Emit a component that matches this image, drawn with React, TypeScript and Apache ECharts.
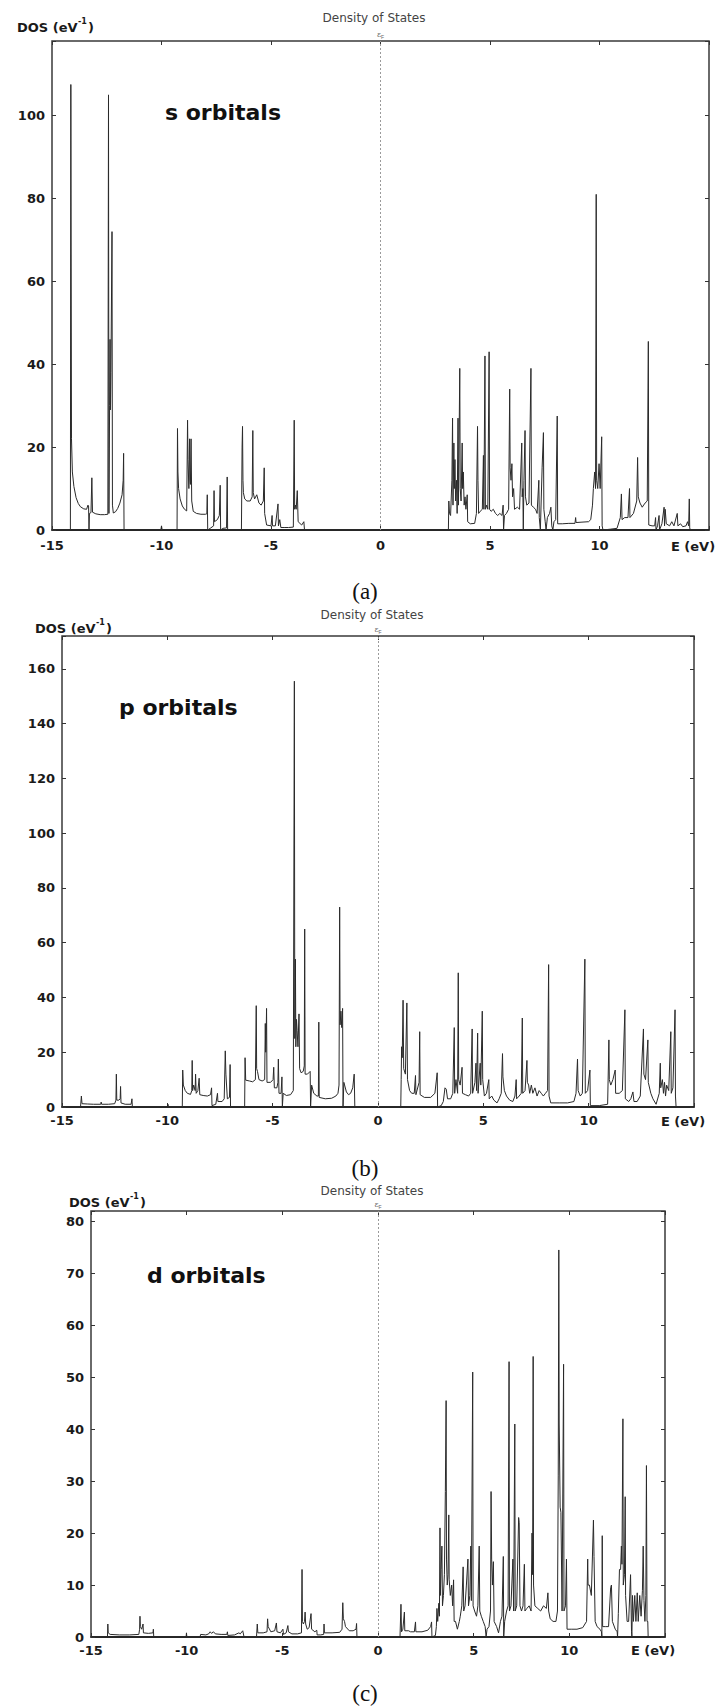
import React, { useEffect, useRef } from "react";
import * as echarts from "echarts";

// ---- data (energy in eV, DOS in 1/eV) ----
const energyMin = -15;
const energyMax = 15;
const energyStep = 5;
const panelNames = ["s orbitals", "p orbitals", "d orbitals"];
const captions = ["(a)", "(b)", "(c)"];
const dosMax = [118, 172, 82];
const dosStep = [20, 20, 10];

const sValence: number[][] = [
  [-15, 0], [-14.16, 0], [-14.14, 107.5], [-14.11, 22], [-14.07, 14], [-14.0, 10.5], [-13.9, 7.8], [-13.8, 6.4],
  [-13.7, 5.6], [-13.55, 5.1], [-13.42, 5.0], [-13.36, 6], [-13.33, 5.8], [-13.31, 0], [-13.29, 4], [-13.22, 4.2],
  [-13.18, 12.6], [-13.15, 4.3], [-13.0, 3.9], [-12.8, 3.7], [-12.6, 3.7], [-12.45, 3.8], [-12.42, 105], [-12.4, 4],
  [-12.37, 30], [-12.35, 46], [-12.33, 29], [-12.31, 38], [-12.26, 72], [-12.24, 6], [-12.2, 4.1], [-12.1, 4.4],
  [-12.0, 5.2], [-11.9, 6.5], [-11.8, 8.5], [-11.75, 12], [-11.73, 18.5], [-11.71, 0], [-10.03, 0], [-10.0, 1], [-9.97, 0],
  [-9.29, 0], [-9.27, 24.5], [-9.25, 14], [-9.22, 10], [-9.15, 7.5], [-9.05, 5.8], [-8.95, 5], [-8.85, 4.6],
  [-8.81, 26.5], [-8.79, 17], [-8.75, 10], [-8.72, 22], [-8.7, 12], [-8.68, 11], [-8.65, 22], [-8.62, 7], [-8.55, 4.5],
  [-8.4, 4], [-8.2, 3.8], [-8.0, 3.8], [-7.93, 3.9], [-7.91, 8.5], [-7.89, 0], [-7.75, 0.5], [-7.62, 1], [-7.6, 9.5],
  [-7.58, 2], [-7.45, 2.5], [-7.36, 3.5], [-7.32, 10.8], [-7.3, 0], [-7.2, 0.4], [-7.03, 0.5], [-7.0, 12.8], [-6.98, 0],
  [-6.35, 0], [-6.32, 20], [-6.3, 25], [-6.28, 12], [-6.26, 9], [-6.2, 7.5], [-6.1, 7], [-5.95, 7], [-5.86, 8],
  [-5.83, 24], [-5.81, 9], [-5.75, 7.5], [-5.65, 8.5], [-5.55, 6.5], [-5.45, 6], [-5.35, 7], [-5.31, 15], [-5.29, 4],
  [-5.2, 1.2], [-5.0, 1], [-4.95, 3.5], [-4.93, 1], [-4.8, 1], [-4.68, 6.3], [-4.66, 1], [-4.6, 2.5], [-4.55, 0.6],
  [-4.4, 0.6], [-4.2, 0.6], [-3.98, 0.7], [-3.94, 26.5], [-3.92, 5], [-3.88, 6], [-3.85, 5], [-3.8, 9.5], [-3.76, 2],
  [-3.6, 1.2], [-3.5, 2], [-3.47, 0],
];

const sConduction: number[][] = [
  [3.1, 0], [3.12, 7], [3.15, 4], [3.2, 3.5], [3.26, 12], [3.29, 27], [3.31, 6], [3.35, 21], [3.37, 10], [3.4, 17],
  [3.43, 7], [3.47, 12], [3.5, 4], [3.54, 27], [3.56, 6], [3.62, 39], [3.64, 10], [3.68, 7], [3.73, 21], [3.75, 10],
  [3.78, 14], [3.82, 6], [3.86, 8], [3.9, 5], [3.96, 8.5], [3.98, 2], [4.1, 1.5], [4.3, 1.6], [4.38, 4], [4.43, 25],
  [4.45, 12], [4.48, 4], [4.55, 4.5], [4.65, 5], [4.7, 18], [4.72, 5], [4.77, 42], [4.79, 5], [4.85, 6], [4.9, 5],
  [4.96, 43], [4.98, 5], [5.05, 4.5], [5.15, 5], [5.25, 4], [5.35, 3.5], [5.45, 4], [5.55, 3.5], [5.6, 6], [5.62, 0],
  [5.66, 3.5], [5.75, 4], [5.85, 5], [5.9, 34], [5.92, 15], [5.96, 12], [6.0, 16], [6.03, 8], [6.08, 10], [6.12, 5],
  [6.25, 5.5], [6.35, 5], [6.45, 21], [6.47, 8], [6.5, 10], [6.52, 0], [6.55, 12], [6.6, 24], [6.62, 8], [6.68, 6],
  [6.78, 6.5], [6.87, 39], [6.89, 6], [6.98, 5.5], [7.08, 5], [7.15, 4], [7.23, 12], [7.25, 3], [7.3, 0], [7.38, 15],
  [7.44, 23.5], [7.46, 5], [7.52, 2], [7.56, 0], [7.62, 3], [7.72, 4], [7.78, 5.5], [7.82, 1], [7.87, 0], [7.92, 2],
  [8.0, 2.5], [8.07, 27.5], [8.09, 1.5], [8.3, 1.5], [8.6, 1.6], [8.88, 1.6], [8.91, 3], [8.93, 1.8], [9.2, 1.9],
  [9.5, 2], [9.6, 2.5], [9.68, 6], [9.72, 10], [9.78, 14], [9.82, 10], [9.85, 81], [9.87, 12], [9.92, 10], [9.98, 16],
  [10.03, 10], [10.1, 22.5], [10.12, 1], [10.16, 0], [10.5, 0.2], [10.8, 0.4], [10.95, 3], [11.0, 8.7], [11.03, 2.5],
  [11.15, 3], [11.3, 3], [11.37, 10], [11.39, 3], [11.55, 4], [11.7, 7], [11.74, 17.5], [11.77, 8], [11.85, 6.5],
  [11.95, 5.5], [12.08, 6.5], [12.18, 7], [12.23, 45.5], [12.25, 1.2], [12.4, 1], [12.52, 1], [12.56, 3], [12.58, 0],
  [12.65, 1], [12.72, 3.5], [12.74, 0], [12.85, 1.5], [12.95, 5.5], [12.97, 1], [13.0, 5], [13.05, 1.5], [13.2, 1],
  [13.3, 2], [13.4, 1], [13.55, 4], [13.58, 1], [13.7, 1.5], [13.8, 0.8], [13.95, 1], [14.02, 2], [14.07, 1],
  [14.1, 7.5], [14.12, 0.5], [14.15, 0], [15, 0],
];

const pValence: number[][] = [
  [-15, 0], [-14.12, 0], [-14.08, 4], [-14.05, 1.2], [-13.8, 1.1], [-13.5, 1], [-13.16, 1], [-13.14, 1.8], [-13.12, 1],
  [-12.8, 1], [-12.5, 1.2], [-12.44, 2.5], [-12.42, 12], [-12.4, 2.5], [-12.3, 2.5], [-12.24, 3], [-12.22, 7.5],
  [-12.2, 1.5], [-12.0, 1], [-11.72, 1], [-11.68, 3], [-11.66, 0], [-10.0, 0], [-9.97, 1], [-9.94, 0],
  [-9.29, 0], [-9.27, 13.5], [-9.24, 8], [-9.15, 6], [-9.05, 5], [-8.9, 4.6], [-8.84, 6], [-8.82, 17], [-8.8, 6],
  [-8.75, 8], [-8.68, 6], [-8.66, 12], [-8.63, 5], [-8.55, 6], [-8.49, 10.5], [-8.46, 4.5], [-8.3, 4.2], [-8.1, 4],
  [-7.95, 4.5], [-7.9, 7], [-7.88, 0.5], [-7.7, 1], [-7.62, 5], [-7.6, 2], [-7.4, 2], [-7.3, 3], [-7.25, 20.5],
  [-7.22, 12], [-7.15, 3], [-7.05, 3.5], [-7.02, 15.5], [-7.0, 0],
  [-6.33, 0], [-6.31, 18], [-6.28, 9.8], [-6.1, 9.5], [-5.95, 9.2], [-5.82, 10], [-5.78, 37], [-5.76, 14], [-5.72, 13],
  [-5.65, 10], [-5.5, 9.5], [-5.38, 10], [-5.35, 30.5], [-5.33, 20], [-5.31, 26], [-5.29, 36], [-5.27, 9], [-5.1, 9],
  [-4.98, 10], [-4.95, 14.5], [-4.92, 7], [-4.8, 7], [-4.75, 9], [-4.73, 17.5], [-4.7, 5], [-4.6, 5], [-4.56, 11],
  [-4.54, 0], [-4.5, 5], [-4.35, 4.2], [-4.15, 4.5], [-4.02, 6], [-3.97, 155.5], [-3.95, 25], [-3.92, 54], [-3.9, 22],
  [-3.87, 32], [-3.84, 28], [-3.8, 22], [-3.75, 34], [-3.72, 14], [-3.65, 12.5], [-3.55, 13], [-3.5, 15], [-3.48, 65],
  [-3.46, 12], [-3.35, 12], [-3.22, 13], [-3.2, 0], [-3.15, 8], [-3.05, 5], [-2.9, 4], [-2.83, 4], [-2.81, 31],
  [-2.79, 3.5], [-2.5, 3], [-2.2, 3.2], [-2.0, 4], [-1.9, 5], [-1.85, 8], [-1.82, 73], [-1.8, 30], [-1.76, 35],
  [-1.72, 29], [-1.68, 36], [-1.66, 0], [-1.62, 9], [-1.5, 5.5], [-1.4, 4.5], [-1.3, 5], [-1.2, 7], [-1.13, 12], [-1.1, 0],
];

const pConduction: number[][] = [
  [1.08, 0], [1.1, 10], [1.12, 22], [1.15, 18], [1.19, 39], [1.22, 14], [1.3, 12], [1.37, 38], [1.4, 10], [1.5, 6],
  [1.6, 5], [1.72, 5], [1.78, 11.5], [1.8, 4.5], [1.95, 9], [1.98, 27.5], [2.0, 4.5], [2.2, 3.5], [2.5, 3.5], [2.7, 5],
  [2.81, 12.5], [2.83, 0], [3.0, 0.5], [3.1, 2], [3.18, 7], [3.24, 6.5], [3.3, 3], [3.45, 3], [3.55, 5], [3.62, 29],
  [3.64, 5], [3.7, 10], [3.78, 5], [3.81, 49], [3.83, 10], [3.9, 8], [3.99, 14.5], [4.01, 5], [4.15, 4.5], [4.3, 4],
  [4.4, 5], [4.47, 28.5], [4.49, 5], [4.6, 9], [4.65, 16], [4.68, 6], [4.73, 27], [4.75, 5], [4.85, 16], [4.88, 8],
  [4.95, 35], [4.97, 10], [5.05, 4], [5.15, 5], [5.26, 10], [5.28, 3], [5.4, 4], [5.5, 2.5], [5.65, 1.5], [5.75, 3],
  [5.85, 5], [5.91, 19.5], [5.93, 11], [6.0, 6], [6.1, 4], [6.25, 2.5], [6.4, 2], [6.5, 4], [6.56, 10], [6.58, 3],
  [6.7, 4], [6.8, 5], [6.85, 32.5], [6.87, 5], [6.98, 6], [7.07, 17], [7.09, 9], [7.15, 8], [7.2, 5], [7.28, 8],
  [7.35, 5], [7.45, 7], [7.55, 4], [7.65, 6], [7.75, 5], [7.85, 4], [7.95, 5], [8.05, 6], [8.1, 52], [8.12, 4],
  [8.2, 1.5], [8.6, 1.5], [9.0, 1.5], [9.3, 2], [9.4, 5], [9.47, 17.5], [9.5, 6], [9.6, 4], [9.7, 5], [9.82, 54],
  [9.84, 5], [9.95, 6], [10.06, 13.5], [10.08, 0.5], [10.5, 0.5], [10.9, 1], [10.96, 24.5], [10.98, 10], [11.05, 8],
  [11.15, 10], [11.26, 13.5], [11.28, 5], [11.45, 5], [11.6, 6], [11.72, 35.5], [11.74, 3], [11.9, 2], [12.0, 3],
  [12.1, 5.5], [12.15, 2], [12.3, 2], [12.45, 4], [12.6, 28.5], [12.62, 12], [12.7, 10], [12.81, 24.5], [12.83, 9],
  [12.95, 5], [13.05, 3], [13.2, 1], [13.35, 5], [13.4, 16], [13.42, 7], [13.5, 10], [13.55, 5], [13.6, 9], [13.65, 4],
  [13.7, 8], [13.8, 6], [13.9, 27.5], [13.92, 5], [14.0, 7], [14.1, 35.5], [14.12, 4], [14.15, 0], [15, 0],
];

const dValence: number[][] = [
  [-15, 0], [-14.14, 0], [-14.12, 2.5], [-14.1, 0.8], [-14.0, 0.5], [-13.5, 0.4], [-13.0, 0.4], [-12.5, 0.5],
  [-12.46, 1.5], [-12.44, 4], [-12.42, 2], [-12.35, 1.5], [-12.28, 2.5], [-12.26, 0.8], [-12.0, 0.7], [-11.76, 0.8],
  [-11.74, 1.5], [-11.72, 0], [-10.03, 0], [-10.01, 0.8], [-9.99, 0], [-9.3, 0], [-9.27, 0.5], [-9.0, 0.4],
  [-8.85, 0.6], [-8.77, 1], [-8.7, 0.7], [-8.6, 1], [-8.5, 0.6], [-8.2, 0.5], [-7.9, 0.5], [-7.87, 1], [-7.85, 0.3],
  [-7.5, 0.4], [-7.27, 0.8], [-7.2, 0.6], [-7.07, 1.2], [-7.0, 0], [-6.35, 0], [-6.31, 2.5], [-6.28, 0.8], [-6.0, 0.8],
  [-5.8, 1], [-5.77, 3.5], [-5.74, 2], [-5.6, 1], [-5.4, 1.2], [-5.31, 2.7], [-5.28, 1], [-5.1, 0.8], [-4.97, 1.5],
  [-4.94, 0.5], [-4.8, 0.8], [-4.71, 2.2], [-4.68, 1], [-4.5, 0.6], [-4.2, 0.6], [-4.0, 0.8], [-3.97, 13], [-3.95, 3],
  [-3.9, 2.5], [-3.84, 3], [-3.81, 4.8], [-3.78, 2.5], [-3.7, 1.5], [-3.6, 1.8], [-3.5, 4.5], [-3.47, 1.5], [-3.3, 1],
  [-3.2, 1.3], [-3.18, 0.4], [-3.0, 0.4], [-2.84, 0.5], [-2.82, 2.5], [-2.8, 0.8], [-2.4, 0.8], [-2.0, 0.9],
  [-1.88, 1.5], [-1.84, 6.6], [-1.81, 3.5], [-1.75, 3], [-1.7, 2], [-1.5, 1.2], [-1.3, 1.2], [-1.15, 1.5],
  [-1.12, 2.6], [-1.1, 0],
];

const dConduction: number[][] = [
  [1.15, 0], [1.2, 6.3], [1.23, 1], [1.3, 1.5], [1.38, 4.8], [1.4, 1.2], [1.6, 1.2], [1.7, 1], [1.9, 1], [1.96, 2.9],
  [1.98, 1], [2.3, 1], [2.6, 1.3], [2.75, 2], [2.8, 2.9], [2.82, 0], [3.0, 0.3], [3.05, 2], [3.08, 5.5], [3.12, 3],
  [3.18, 6.5], [3.21, 4], [3.24, 21], [3.26, 8], [3.3, 13], [3.34, 17.5], [3.37, 6], [3.42, 8], [3.47, 12], [3.52, 28],
  [3.56, 45.5], [3.58, 15], [3.62, 10], [3.66, 12], [3.7, 23.5], [3.72, 11], [3.78, 8], [3.85, 10], [3.9, 6],
  [3.95, 11], [3.98, 3], [4.05, 3], [4.15, 1.5], [4.25, 3], [4.3, 4], [4.38, 6], [4.45, 13.5], [4.48, 5], [4.55, 6],
  [4.62, 10], [4.7, 15], [4.73, 6], [4.8, 8], [4.85, 17.5], [4.88, 7], [4.95, 51], [4.97, 6], [5.05, 5], [5.15, 4],
  [5.22, 6], [5.29, 17.5], [5.32, 5], [5.4, 4], [5.5, 3], [5.6, 2], [5.65, 0], [5.7, 1.5], [5.8, 2], [5.88, 5],
  [5.91, 28], [5.94, 15], [5.98, 10], [6.03, 14.5], [6.07, 3], [6.2, 2], [6.3, 0.8], [6.4, 3], [6.48, 4], [6.55, 15.5],
  [6.57, 0], [6.62, 3], [6.72, 5], [6.8, 6], [6.85, 53], [6.87, 5], [6.95, 6], [7.05, 15], [7.09, 5], [7.15, 41],
  [7.17, 5], [7.25, 6], [7.35, 23], [7.38, 22], [7.42, 6], [7.5, 5], [7.58, 6], [7.65, 14], [7.68, 5], [7.78, 5.5],
  [7.9, 6], [8.0, 5], [8.05, 20], [8.08, 12], [8.11, 54], [8.13, 10], [8.2, 6], [8.35, 5.5], [8.5, 5], [8.65, 6],
  [8.8, 5.5], [8.88, 8.5], [8.92, 5], [9.0, 3.5], [9.15, 3], [9.3, 3], [9.38, 5], [9.42, 31], [9.45, 74.5], [9.47, 41],
  [9.52, 25], [9.56, 24], [9.62, 5], [9.7, 52.5], [9.72, 5], [9.8, 6], [9.85, 15], [9.88, 1.5], [10.1, 1.5],
  [10.4, 1.5], [10.7, 1.8], [10.9, 3], [10.96, 15], [10.98, 10], [11.05, 10], [11.15, 8], [11.26, 22.5], [11.29, 15.5],
  [11.35, 3], [11.45, 2], [11.6, 1.5], [11.68, 1], [11.7, 0], [11.72, 19.5], [11.74, 2], [11.9, 2], [12.05, 2],
  [12.16, 9.5], [12.2, 10], [12.25, 3], [12.4, 1.5], [12.5, 1], [12.52, 0], [12.56, 4.5], [12.62, 13], [12.68, 13],
  [12.72, 17.5], [12.75, 14], [12.8, 42], [12.82, 10], [12.88, 12], [12.92, 27], [12.94, 8], [13.02, 3], [13.1, 3],
  [13.2, 12], [13.25, 1], [13.27, 0], [13.3, 8], [13.35, 3], [13.42, 8], [13.48, 3], [13.55, 8.5], [13.6, 3],
  [13.68, 8], [13.75, 4], [13.82, 9], [13.86, 17.5], [13.9, 7], [13.95, 3], [14.0, 8], [14.03, 33], [14.06, 3],
  [14.1, 3], [14.12, 0], [15, 0],
];

const panelData = [
  [...sValence, ...sConduction],
  [...pValence, ...pConduction],
  [...dValence, ...dConduction],
];

// ---- layout (pixels) ----
const grids = [
  { left: 52, top: 41, width: 657, height: 489 },
  { left: 62, top: 636, width: 632, height: 471 },
  { left: 91, top: 1211, width: 574, height: 426 },
];
const xLabelMargin = [9, 7, 7];
const titleY = [18, 615, 1191];
const titleX = [374, 372, 372];
const dosLabelX = [17, 35, 69];
const dosLabelY = [27, 628, 1202];
const nameX = [165, 119, 147];
const nameY = [112, 707, 1275];
const eLabelX = [693, 683, 653];
const eLabelY = [546, 1121, 1650];
const captionY = [591, 1168, 1693];

const BOLD = "DejaVu Sans";

function buildOption() {
  const xAxis: any[] = [];
  const yAxis: any[] = [];
  const series: any[] = [];
  const graphic: any[] = [];

  grids.forEach((g, i) => {
    const tick = { show: true, inside: true, length: 4, lineStyle: { color: "#333", width: 1 } };
    xAxis.push({
      type: "value", gridIndex: i, position: "bottom", min: energyMin, max: energyMax, interval: energyStep,
      axisLine: { show: true, onZero: false, lineStyle: { color: "#111", width: 1.6 } },
      axisTick: tick,
      splitLine: { show: false },
      axisLabel: {
        margin: xLabelMargin[i], fontFamily: BOLD, fontWeight: "bold", fontSize: 13, lineHeight: 13, color: "#1a1a1a",
        formatter: (v: number) => (v === energyMax ? "" : String(v)),
      },
    });
    xAxis.push({
      type: "value", gridIndex: i, position: "top", min: energyMin, max: energyMax, interval: energyStep,
      axisLine: { show: false, onZero: false }, axisTick: tick, axisLabel: { show: false }, splitLine: { show: false },
    });
    yAxis.push({
      type: "value", gridIndex: i, position: "left", min: 0, max: dosMax[i], interval: dosStep[i],
      axisLine: { show: false, onZero: false }, axisTick: tick, splitLine: { show: false },
      axisLabel: {
        margin: 7, fontFamily: BOLD, fontWeight: "bold", fontSize: 13, lineHeight: 13, color: "#1a1a1a",
        padding: [0, 0, 4, 0],
        formatter: (v: number) => (v % dosStep[i] === 0 ? String(v) : ""),
      },
    });
    yAxis.push({
      type: "value", gridIndex: i, position: "right", min: 0, max: dosMax[i], interval: dosStep[i],
      axisLine: { show: false, onZero: false }, axisTick: tick, axisLabel: { show: false }, splitLine: { show: false },
    });
    series.push({
      type: "line", xAxisIndex: 2 * i, yAxisIndex: 2 * i, data: panelData[i],
      symbol: "none", showSymbol: false, clip: true,
      lineStyle: { color: "#2a2a2a", width: 1 },
      markLine: {
        silent: true, symbol: "none",
        lineStyle: { color: "#9a9a9a", width: 1, type: [2, 2] },
        label: {
          show: true, position: "end", distance: 2,
          formatter: "{a|ε}{b|F}",
          rich: {
            a: { fontSize: 8, color: "#666", fontFamily: "DejaVu Serif" },
            b: { fontSize: 5, color: "#666", padding: [4, 0, 0, 0] },
          },
        },
        data: [{ xAxis: 0 }],
      },
    });

    graphic.push({
      type: "text", x: titleX[i], y: titleY[i], silent: true,
      style: { text: "Density of States", fontFamily: "DejaVu Sans", fontSize: 12, fill: "#444", align: "center", verticalAlign: "middle" },
    });
    graphic.push({
      type: "text", x: dosLabelX[i], y: dosLabelY[i], silent: true,
      style: { text: "DOS (eV", fontFamily: BOLD, fontWeight: "bold", fontSize: 13, fill: "#1a1a1a", align: "left", verticalAlign: "middle" },
    });
    graphic.push({
      type: "text", x: dosLabelX[i] + 61, y: dosLabelY[i] - 6, silent: true,
      style: { text: "-1", fontFamily: BOLD, fontWeight: "bold", fontSize: 8, fill: "#1a1a1a", align: "left", verticalAlign: "middle" },
    });
    graphic.push({
      type: "text", x: dosLabelX[i] + 71, y: dosLabelY[i], silent: true,
      style: { text: ")", fontFamily: BOLD, fontWeight: "bold", fontSize: 13, fill: "#1a1a1a", align: "left", verticalAlign: "middle" },
    });
    graphic.push({
      type: "text", x: nameX[i], y: nameY[i], silent: true,
      style: { text: panelNames[i], fontFamily: BOLD, fontWeight: "bold", fontSize: 22, fill: "#111", align: "left", verticalAlign: "middle" },
    });
    graphic.push({
      type: "text", x: eLabelX[i], y: eLabelY[i], silent: true,
      style: { text: "E (eV)", fontFamily: BOLD, fontWeight: "bold", fontSize: 13, fill: "#1a1a1a", align: "center", verticalAlign: "middle" },
    });
    graphic.push({
      type: "text", x: 365, y: captionY[i], silent: true,
      style: { text: captions[i], fontFamily: "Liberation Serif", fontSize: 23, fill: "#111", align: "center", verticalAlign: "middle" },
    });
  });

  return {
    animation: false,
    backgroundColor: "#ffffff",
    grid: grids.map((g) => ({ ...g, show: true, borderColor: "#3a3a3a", borderWidth: 1.5, backgroundColor: "transparent", containLabel: false })),
    xAxis,
    yAxis,
    series,
    graphic,
  };
}

export default function App() {
  const ref = useRef<HTMLDivElement>(null);
  useEffect(() => {
    if (!ref.current) return;
    const chart = echarts.init(ref.current, undefined, { renderer: "svg" });
    chart.setOption(buildOption() as any);
    return () => chart.dispose();
  }, []);
  return <div ref={ref} style={{ position: "absolute", left: 0, top: 0, width: 721, height: 1707, background: "#fff" }} />;
}
